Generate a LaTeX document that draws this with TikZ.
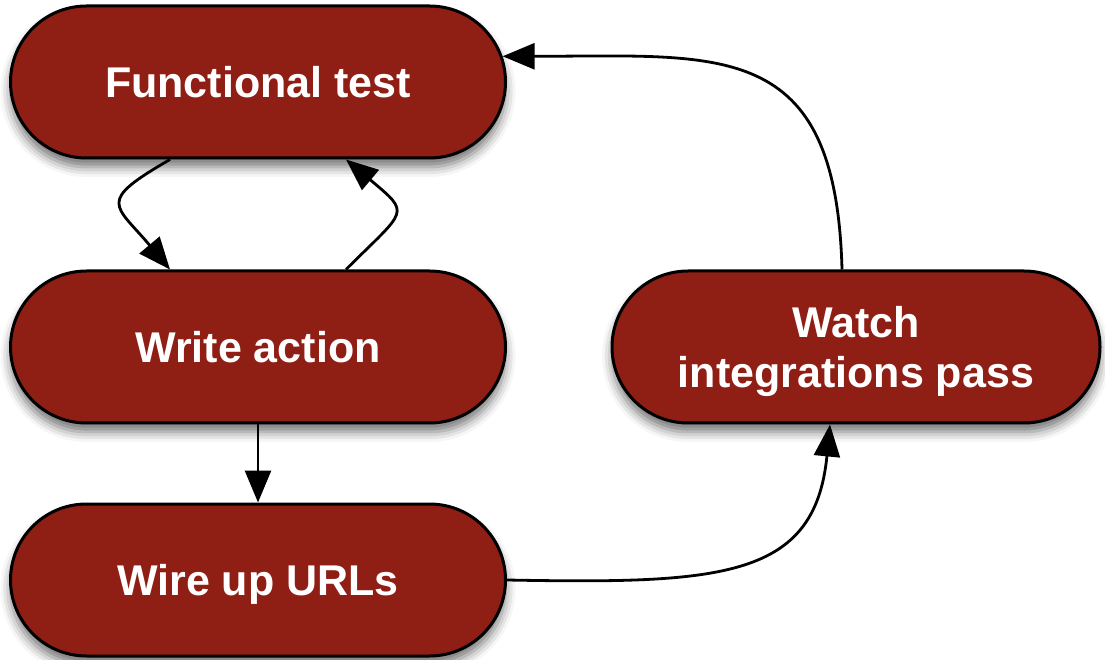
\documentclass[tikz,border=0pt]{standalone}
\usepackage{fontspec}
\setmainfont{Liberation Sans}
\usetikzlibrary{arrows.meta}
\usetikzlibrary{shapes.misc}
\usetikzlibrary{shadows.blur}

\definecolor{stepred}{RGB}{143,31,21}

\tikzset{
  stepbox/.style={rounded rectangle, draw=black, line width=3pt, fill=stepred,
    text=white, font=\fontsize{43}{50}\selectfont\bfseries, align=center,
    minimum width=495pt, minimum height=152pt, inner sep=0pt, text depth=0pt,
    blur shadow={shadow xshift=0pt, shadow yshift=-9pt, shadow blur radius=10pt, shadow opacity=55}},
  flow/.style={-{Triangle[length=32pt,width=26pt]}, line width=2.8pt, black}
}

\begin{document}
\begin{tikzpicture}[x=1pt,y=1pt]
\useasboundingbox (0,0) rectangle (1105,659);
% steps
\node[stepbox] (ft) at (258,577) {Functional test};
\node[stepbox] (wa) at (258,312) {Write action};
\node[stepbox] (wu) at (258,79) {Wire up URLs};
\node[stepbox, minimum width=488pt] (wi) at (856,312) {Watch\\integrations pass};
% loop between test and action
\draw[flow] ([xshift=-88pt]ft.south) to[out=-150,in=130,looseness=2] ([xshift=-88pt]wa.north);
\draw[flow] ([xshift=88pt]wa.north) to[out=45,in=-40,looseness=2] ([xshift=88pt]ft.south);
\draw[flow] (wa.south) -- (wu.north);
% back round to the test
\draw[flow] (wu.east) .. controls +(215,-4) and +(-15,-154) .. ([xshift=-26pt]wi.south);
\draw[flow] ([xshift=-14pt]wi.north) .. controls +(-6,232) and +(219,0) .. (ft.6);
\end{tikzpicture}
\end{document}
